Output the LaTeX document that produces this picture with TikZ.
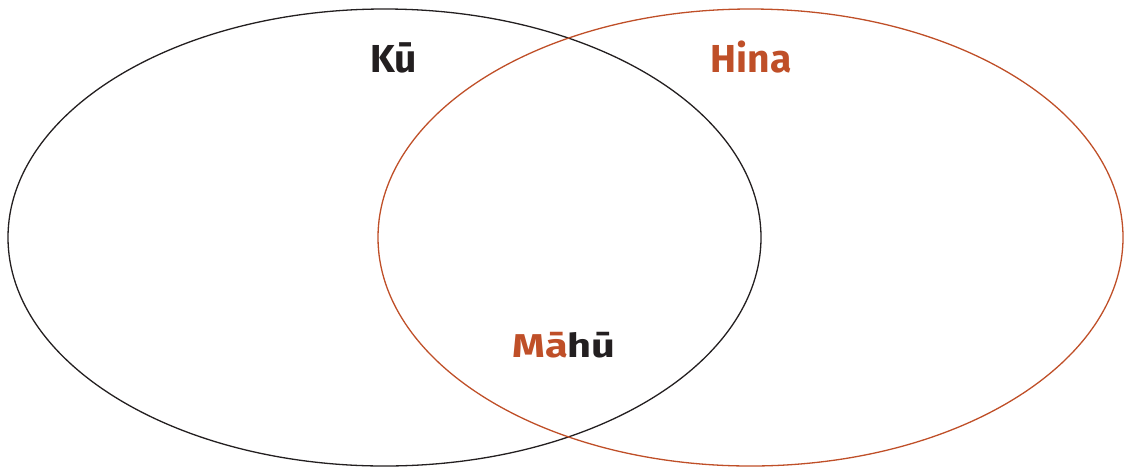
\documentclass[tikz,border=0pt]{standalone}
\usepackage{fontspec}
\setmainfont{Fira Sans}
\definecolor{rust}{HTML}{BF4F28}
\definecolor{ink}{HTML}{231F20}
\begin{document}
\begin{tikzpicture}[x=1pt,y=-1pt,
  ring/.style={line width=1.3pt},
  biglabel/.style={anchor=base,font=\fontsize{39}{39}\selectfont\bfseries},
  smalllabel/.style={anchor=base,font=\fontsize{33}{33}\selectfont\bfseries}]
  \useasboundingbox (0,0) rectangle (1124,467);
  % the two overlapping sets
  \draw[ring,ink] (384.5,237.5) ellipse [x radius=376.5pt, y radius=228.5pt];
  \draw[ring,rust] (750.5,237.5) ellipse [x radius=372.5pt, y radius=228.5pt];
  % set labels
  \node[biglabel,text=ink] (ku) at (394,72) {Kū};
  \node[biglabel,text=rust] (hina) at (751,72) {Hina};
  \node[smalllabel] (mahu) at (564,357)
    {\scalebox{1.26}[1]{\textcolor{rust}{Mā}\textcolor{ink}{hū}}};
\end{tikzpicture}
\end{document}
